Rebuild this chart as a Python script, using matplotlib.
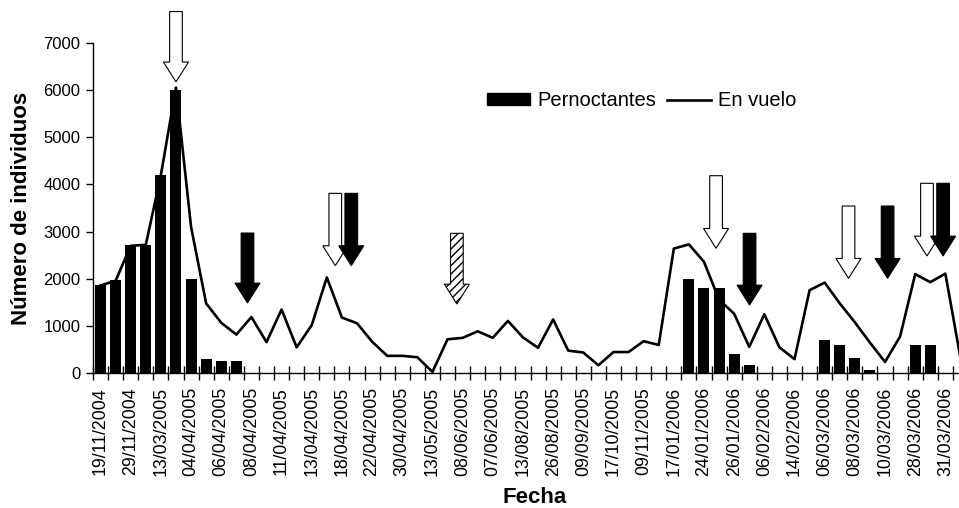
import numpy as np
import matplotlib
matplotlib.use("Agg")
import matplotlib.pyplot as plt
from matplotlib.lines import Line2D
from matplotlib.patches import Patch

plt.rcParams['font.family'] = ['Liberation Sans', 'DejaVu Sans']

# data (58 sampling dates, every second one labelled)
tick_labels = ["19/11/2004", "29/11/2004", "13/03/2005", "04/04/2005", "06/04/2005",
               "08/04/2005", "11/04/2005", "13/04/2005", "18/04/2005", "22/04/2005",
               "30/04/2005", "13/05/2005", "08/06/2005", "07/06/2005", "13/08/2005",
               "26/08/2005", "09/09/2005", "17/10/2005", "09/11/2005", "17/01/2006",
               "24/01/2006", "26/01/2006", "06/02/2006", "14/02/2006", "06/03/2006",
               "08/03/2006", "10/03/2006", "28/03/2006", "31/03/2006"]

pernoctantes = [1870, 1980, 2720, 2720, 4200, 6000, 2000, 310, 250, 250,
                0, 0, 0, 0, 0, 0, 0, 0, 0, 0,
                0, 0, 0, 0, 0, 0, 0, 0, 0, 0,
                0, 0, 0, 0, 0, 0, 0, 0, 0, 2000,
                1800, 1800, 400, 180, 0, 0, 0, 0, 700, 600,
                330, 80, 0, 0, 600, 600, 0, 0]

en_vuelo = [1860, 1960, 2700, 2720, 4200, 6050, 3100, 1480, 1070, 820,
            1190, 660, 1350, 550, 1020, 2030, 1180, 1060, 670, 370,
            370, 340, 30, 720, 750, 890, 750, 1110, 760, 540,
            1140, 480, 440, 170, 450, 450, 680, 600, 2640, 2730,
            2360, 1560, 1260, 560, 1250, 550, 300, 1760, 1920, 1480,
            1080, 650, 240, 780, 2100, 1930, 2110, 330]

# annotation arrows: category position, top value, tip value, style
arrow_x = [5.0, 9.74, 15.56, 16.62, 23.62, 40.8, 43.02, 49.58, 52.17, 54.78, 55.85]
arrow_top = [7660, 2970, 3810, 3810, 2964, 4184, 2964, 3542, 3542, 4023, 4023]
arrow_tip = [6170, 1490, 2280, 2280, 1467, 2646, 1446, 2011, 2011, 2484, 2484]
arrow_kind = ['hollow', 'solid', 'hollow', 'solid', 'hatched', 'hollow',
              'solid', 'hollow', 'solid', 'hollow', 'solid']

x = np.arange(len(en_vuelo))

fig = plt.figure(figsize=(9.59, 5.08), dpi=100)
ax = fig.add_axes([93 / 959, 1 - 373.3 / 508, 875 / 959, 330.6 / 508])

ax.bar(x, pernoctantes, width=0.73, color='black', zorder=2)
ax.plot(x, en_vuelo, color='black', lw=1.9, zorder=3, clip_on=False)

# arrows drawn as polygons (sizes in pixels converted to data units)
sw, hw, hl = 0.42, 0.83, 420
for xa, top, tip, kind in zip(arrow_x, arrow_top, arrow_tip, arrow_kind):
    px = [xa - sw, xa + sw, xa + sw, xa + hw, xa, xa - hw, xa - sw]
    py = [top, top, tip + hl, tip + hl, tip, tip + hl, tip + hl]
    if kind == 'solid':
        ax.fill(px, py, facecolor='black', edgecolor='black', lw=0.8, zorder=4, clip_on=False)
    elif kind == 'hollow':
        ax.fill(px, py, facecolor='white', edgecolor='black', lw=0.8, zorder=4, clip_on=False)
    else:
        ax.fill(px, py, facecolor='white', edgecolor='black', lw=0.8, hatch='////',
                zorder=4, clip_on=False)

ax.set_xlim(-0.5, len(x) - 0.5)
ax.set_ylim(0, 7000)
ax.set_yticks(range(0, 7001, 1000))
ax.tick_params(axis='y', labelsize=12, length=5, width=1, direction='out', pad=4)

ax.set_xticks(x[::2])
ax.set_xticklabels(tick_labels, rotation=90, fontsize=12.8)
ax.tick_params(axis='x', which='major', length=0, pad=10)
ax.set_xticks(np.arange(-0.5, len(x), 1), minor=True)
ax.tick_params(axis='x', which='minor', length=10, width=1, direction='inout')

for s in ['top', 'right']:
    ax.spines[s].set_visible(False)
for s in ['left', 'bottom']:
    ax.spines[s].set_linewidth(1)

ax.set_ylabel("Número de individuos", fontsize=16, fontweight='bold')
ax.yaxis.set_label_coords(-0.07, 0.5)
ax.set_xlabel("Fecha", fontsize=16, fontweight='bold')
ax.xaxis.set_label_coords(0.505, -0.345)

handles = [Patch(facecolor='black', edgecolor='black'),
           Line2D([0], [0], color='black', lw=1.9)]
ax.legend(handles, ["Pernoctantes", "En vuelo"], ncol=2, frameon=False, fontsize=14.5,
          loc='center left', bbox_to_anchor=(487 / 959, 1 - 101 / 508),
          bbox_transform=fig.transFigure, borderpad=0, borderaxespad=0,
          handlelength=2.15, handleheight=0.55, handletextpad=0.35, columnspacing=0.55)

fig.savefig("out.png", dpi=100)
